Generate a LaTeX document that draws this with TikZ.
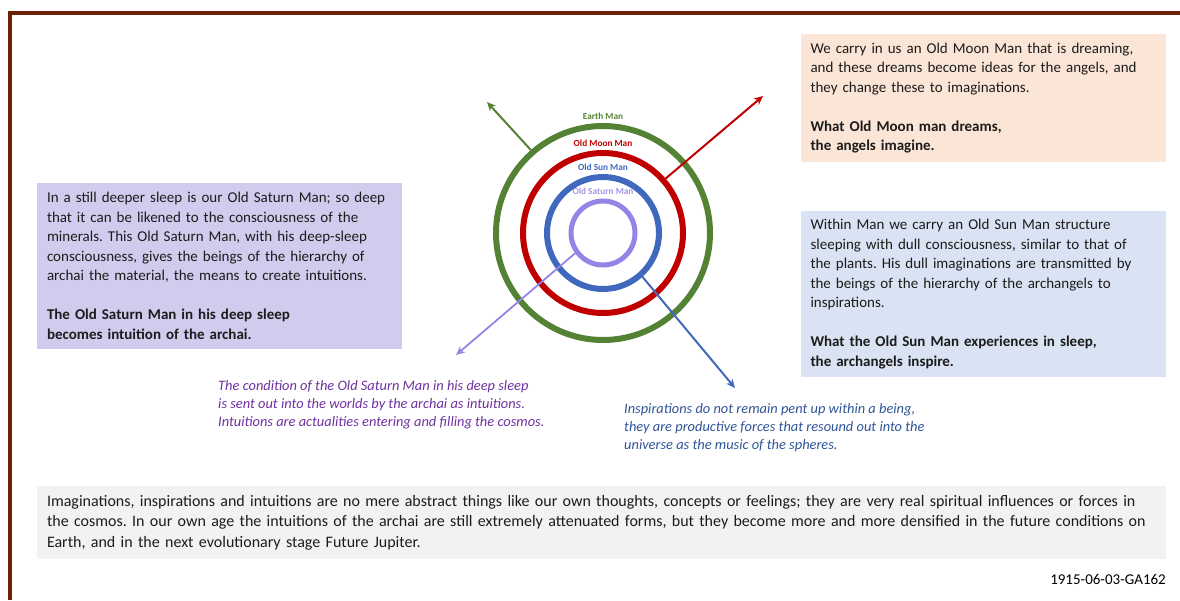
\documentclass[tikz,border=0pt]{standalone}
\usepackage{fontspec}
\setmainfont{Carlito}
\usetikzlibrary{positioning,arrows.meta}
\definecolor{framebrown}{RGB}{110,32,4}
\definecolor{earthgreen}{RGB}{84,130,53}
\definecolor{moonred}{RGB}{192,0,0}
\definecolor{sunblue}{RGB}{64,105,190}
\definecolor{saturnpurple}{RGB}{150,131,230}
\definecolor{saturnlabel}{RGB}{165,148,232}
\definecolor{peach}{RGB}{251,229,214}
\definecolor{lavender}{RGB}{208,204,238}
\definecolor{paleblue}{RGB}{218,227,243}
\definecolor{palegrey}{RGB}{242,242,242}
\definecolor{boxtext}{RGB}{28,28,28}
\definecolor{notepurple}{RGB}{112,48,160}
\definecolor{noteblue}{RGB}{47,85,151}
\tikzset{
  ring/.style={circle, draw, inner sep=0pt},
  ringlabel/.style={font=\fontsize{9.3}{10}\selectfont\bfseries, inner sep=0.5pt},
  textbox/.style={text width=345pt, inner xsep=10pt, inner ysep=0pt, align=left,
    text=boxtext, font=\fontsize{15}{19.5}\selectfont},
  ray/.style={line width=2pt, -{Stealth[length=9pt,width=8pt]}},
  note/.style={align=left, inner sep=0pt, font=\fontsize{14.4}{18}\selectfont\itshape}
}
\frenchspacing
\begin{document}
\begin{tikzpicture}[x=1pt,y=-1pt]
    \useasboundingbox (0,0) rectangle (1180,600);
    \draw[framebrown, line width=4pt] (9.5,600) -- (9.5,13) -- (1180,13);
    % rings
    \coordinate (C) at (603,233);
    \node[ring, draw=earthgreen, line width=6pt, minimum size=214pt] (earth) at (C) {};
    \node[ring, draw=moonred, line width=6pt, minimum size=160pt] (moon) at (C) {};
    \node[ring, draw=sunblue, line width=6pt, minimum size=112pt] (sun) at (C) {};
    \node[ring, draw=saturnpurple, line width=5pt, minimum size=64pt] (saturn) at (C) {};
    \node[ringlabel, text=earthgreen, above=3pt of earth.north] (earthlabel) {Earth Man};
    \node[ringlabel, text=moonred, above=3pt of moon.north] (moonlabel) {Old Moon Man};
    \node[ringlabel, text=sunblue, above=3pt of sun.north] (sunlabel) {Old Sun Man};
    \node[ringlabel, text=saturnlabel, above=3pt of saturn.north] (saturnlabel) {Old Saturn Man};
    % rays
    \coordinate (earthtip) at (487,102);
    \coordinate (moontip) at (763,96);
    \coordinate (suntip) at (735,388);
    \coordinate (saturntip) at (456,355);
    \draw[ray, earthgreen] (earth.131) -- (earthtip);
    \draw[ray, moonred] (moon.41) -- (moontip);
    \draw[ray, sunblue] (sun.-48) -- (suntip);
    \draw[ray, saturnpurple, line width=1.8pt] (saturn.216) -- (saturntip);
    % boxes
    \node[textbox, fill=peach, minimum height=128pt] (moonbox) at (983,98)
        {We carry in us an Old Moon Man that is dreaming,\\
         and these dreams become ideas for the angels, and\\
         they change these to imaginations.\\[19.5pt]
         \textbf{What Old Moon man dreams,}\\
         \textbf{the angels imagine.}};
    \node[textbox, fill=lavender, minimum height=166pt] (saturnbox) at (219.5,266)
        {In a still deeper sleep is our Old Saturn Man; so deep\\
         that it can be likened to the consciousness of the\\
         minerals. This Old Saturn Man, with his deep-sleep\\
         consciousness, gives the beings of the hierarchy of\\
         archai the material, the means to create intuitions.\\[19.5pt]
         \textbf{The Old Saturn Man in his deep sleep}\\
         \textbf{becomes intuition of the archai.}};
    \node[textbox, fill=paleblue, minimum height=166pt] (sunbox) at (983,294)
        {Within Man we carry an Old Sun Man structure\\
         sleeping with dull consciousness, similar to that of\\
         the plants. His dull imaginations are transmitted by\\
         the beings of the hierarchy of the archangels to\\
         inspirations.\\[19.5pt]
         \textbf{What the Old Sun Man experiences in sleep,}\\
         \textbf{the archangels inspire.}};
    \node[textbox, text width=1109pt, fill=palegrey, minimum height=73pt,
        font=\fontsize{16}{20.5}\selectfont] (summarybox) at (601.5,522.5)
        {Imaginations, inspirations and intuitions are no mere abstract things like our own thoughts, concepts or feelings; they are very real spiritual influences or forces in\\
         the cosmos. In our own age the intuitions of the archai are still extremely attenuated forms, but they become more and more densified in the future conditions on\\
         Earth, and in the next evolutionary stage Future Jupiter.};
    % notes
    \node[note, text=notepurple, anchor=north west] (saturnnote) at (218,380)
        {The condition of the Old Saturn Man in his deep sleep\\
         is sent out into the worlds by the archai as intuitions.\\
         Intuitions are actualities entering and filling the cosmos.};
    \node[note, text=noteblue, anchor=north west] (sunnote) at (624,403)
        {Inspirations do not remain pent up within a being,\\
         they are productive forces that resound out into the\\
         universe as the music of the spheres.};
    \node[anchor=east, inner sep=0pt, font=\fontsize{15}{17}\selectfont] (source) at (1166,579) {1915-06-03-GA162};
\end{tikzpicture}
\end{document}
